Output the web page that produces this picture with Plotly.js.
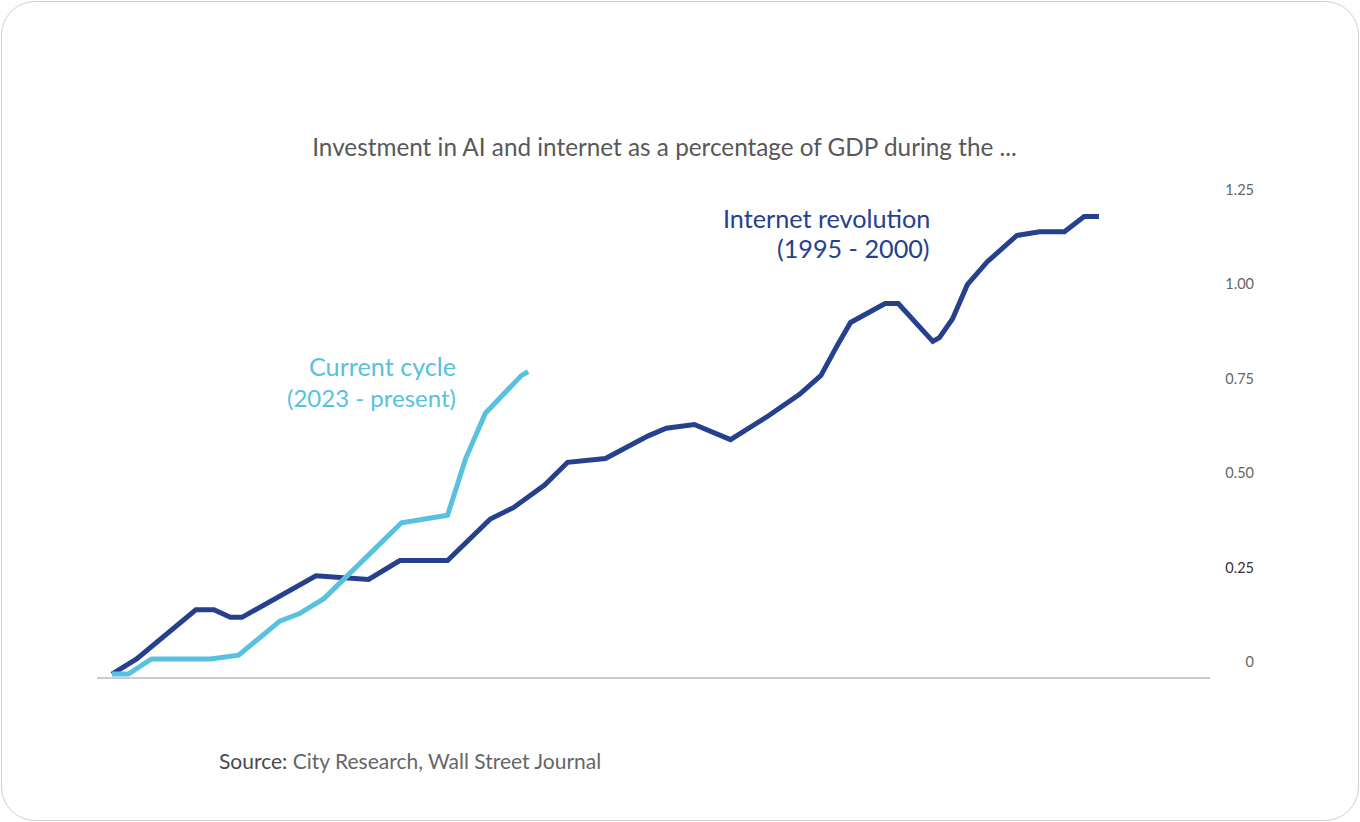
<!DOCTYPE html>
<html>
<head>
<meta charset="utf-8">
<script src="https://cdn.plot.ly/plotly-3.0.1.min.js"></script>
<style>
  html, body { margin: 0; padding: 0; background: #ffffff; }
  #card {
    position: absolute; left: 1px; top: 1px; width: 1356px; height: 818px;
    border: 1px solid #cfcfcf; border-radius: 34px; box-sizing: content-box;
  }
  #chart { position: absolute; left: 0; top: 0; width: 1360px; height: 822px; }
</style>
</head>
<body>
<div id="card"></div>
<div id="chart"></div>
<script>
// Months since the start of each investment cycle
const internetMonths = [0, 1.5, 5.1, 6.2, 7.2, 7.9, 12.4, 15.6, 17.5, 20.4, 23.0, 24.4, 26.3, 27.7, 30.0,
  32.6, 33.7, 35.4, 37.6, 39.8, 41.8, 43.1, 44.1, 44.9, 47.0, 47.8, 49.9, 50.3, 51.1, 52.0,
  53.2, 55.0, 56.4, 57.9, 59.1, 60.0];
// Investment as % of GDP, internet revolution (1995 - 2000)
const internetShare = [0.00, 0.04, 0.17, 0.17, 0.15, 0.15, 0.26, 0.25, 0.30, 0.30, 0.41, 0.44, 0.50, 0.56, 0.57,
  0.63, 0.65, 0.66, 0.62, 0.68, 0.74, 0.79, 0.87, 0.93, 0.98, 0.98, 0.88, 0.89, 0.94, 1.03,
  1.09, 1.16, 1.17, 1.17, 1.21, 1.21];

const aiMonths = [0, 1.0, 2.4, 6.0, 7.7, 10.2, 11.4, 12.9, 17.6, 20.4, 21.5, 22.7, 24.9, 25.3];
// Investment as % of GDP, current AI cycle (2023 - present)
const aiShare = [0.00, 0.00, 0.04, 0.04, 0.05, 0.14, 0.16, 0.20, 0.40, 0.42, 0.57, 0.69, 0.79, 0.80];

const tickValues = [0, 0.25, 0.5, 0.75, 1.0, 1.25];
const tickLabels = ['0', '<span style="fill:#333333">0.25</span>', '0.50', '0.75', '1.00', '1.25'];

const navy = '#25418e';
const sky = '#57c1df';
const fontFamily = 'Lato, "Open Sans", sans-serif';

const traces = [
  {
    x: internetMonths, y: internetShare, type: 'scatter', mode: 'lines',
    line: { color: navy, width: 5 }, hoverinfo: 'skip', name: 'Internet revolution'
  },
  {
    x: aiMonths, y: aiShare, type: 'scatter', mode: 'lines',
    line: { color: sky, width: 5 }, hoverinfo: 'skip', name: 'Current cycle'
  }
];

const M = { l: 97, r: 106, t: 170, b: 145 };

const layout = {
  width: 1360, height: 822,
  margin: M,
  paper_bgcolor: 'rgba(0,0,0,0)', plot_bgcolor: 'rgba(0,0,0,0)',
  showlegend: false,
  font: { family: fontFamily, color: '#666666' },
  title: {
    text: 'Investment in AI and internet as a percentage of GDP during the ...',
    font: { family: fontFamily, size: 24.3, color: '#585858' },
    x: 0.4886, xanchor: 'center', y: 0.82, yref: 'container', yanchor: 'middle'
  },
  xaxis: {
    domain: [0, (1210 - M.l) / (1360 - M.l - M.r)], range: [-0.91, 66.75],
    showgrid: false, zeroline: false, showticklabels: false, ticks: '',
    showline: true, linecolor: '#cccccc', linewidth: 2
  },
  yaxis: {
    range: [-0.0079, 1.3333], anchor: 'free', position: 1, side: 'left',
    showgrid: false, zeroline: false, showline: false, ticks: '',
    tickvals: tickValues, ticktext: tickLabels, ticklabelshift: -12,
    tickfont: { family: fontFamily, size: 14.5, color: '#666666' }
  },
  annotations: [
    { text: 'Internet revolution', x: 932, y: 218, font: { size: 25.2, color: navy } },
    { text: '(1995 - 2000)', x: 932, y: 248, font: { size: 25.2, color: navy } },
    { text: 'Current cycle', x: 458, y: 366, font: { size: 25.2, color: sky } },
    { text: '(2023 - present)', x: 458, y: 397, font: { size: 24, color: sky } },
    { text: '<span style="fill:#4a4a4a">Source:</span> City Research, Wall Street Journal', x: 217, y: 760,
      xanchor: 'left', font: { size: 21, color: '#666666' } }
  ].map(a => ({
    xanchor: 'right', yanchor: 'middle', showarrow: false,
    ...a,
    // annotation positions are given in page pixels
    x: (a.x - M.l) / (1360 - M.l - M.r), xref: 'paper',
    y: (822 - M.b - a.y) / (822 - M.t - M.b), yref: 'paper',
    font: { family: fontFamily, ...a.font }
  }))
};

Plotly.newPlot('chart', traces, layout, { displayModeBar: false, staticPlot: true });
</script>
</body>
</html>
